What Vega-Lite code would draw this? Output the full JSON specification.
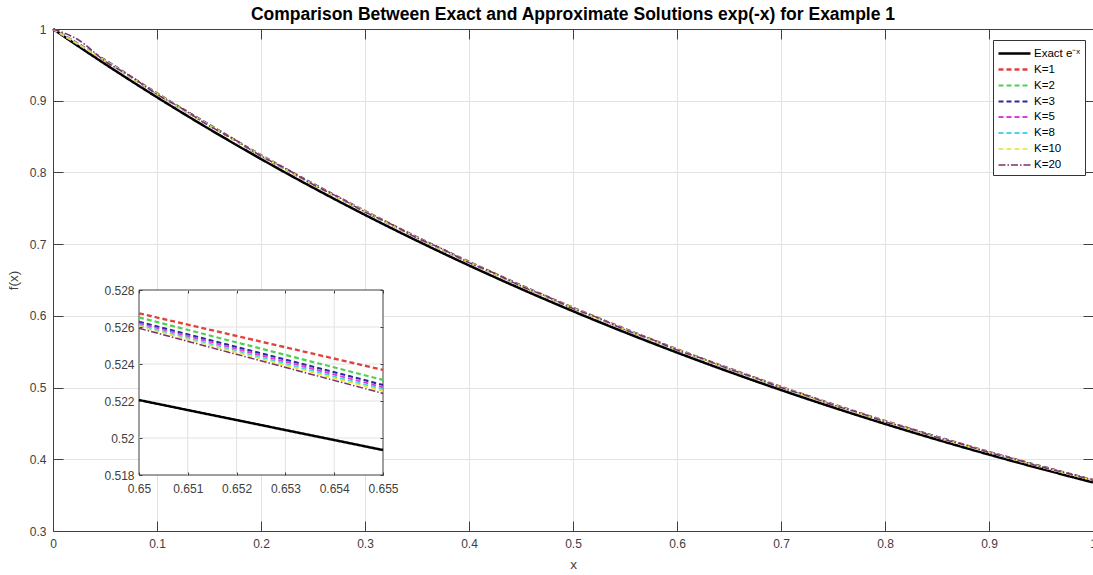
{
  "$schema": "https://vega.github.io/schema/vega-lite/v6.json",
  "width": 1040,
  "height": 502,
  "autosize": {"type": "none"},
  "padding": {"left": 53, "top": 29, "right": 0, "bottom": 44},
  "background": "white",
  "title": {"text": "Comparison Between Exact and Approximate Solutions exp(-x) for Example 1", "anchor": "middle", "frame": "group", "fontSize": 17.5, "fontWeight": "bold", "color": "#000000", "font": "Liberation Sans", "offset": 0},
  "config": {
    "view": {"stroke": null},
    "font": "Liberation Sans",
    "axis": {"labelFont": "Liberation Sans", "labelFontSize": 12, "labelColor": "#404040", "titleFont": "Liberation Sans", "titleFontSize": 13.5, "titleFontWeight": "normal", "titleColor": "#404040", "domainColor": "#404040", "tickColor": "#404040", "gridColor": "#e2e2e2", "gridWidth": 1, "domainWidth": 1, "tickWidth": 1}
  },
  "datasets": {
    "main": [
      {"s": "Exact e⁻ˣ", "x": 0, "y": 1.0}, {"s": "Exact e⁻ˣ", "x": 0.05, "y": 0.95123}, {"s": "Exact e⁻ˣ", "x": 0.1, "y": 0.90484}, {"s": "Exact e⁻ˣ", "x": 0.15, "y": 0.86071}, {"s": "Exact e⁻ˣ", "x": 0.2, "y": 0.81873}, {"s": "Exact e⁻ˣ", "x": 0.25, "y": 0.7788}, {"s": "Exact e⁻ˣ", "x": 0.3, "y": 0.74082}, {"s": "Exact e⁻ˣ", "x": 0.35, "y": 0.70469}, {"s": "Exact e⁻ˣ", "x": 0.4, "y": 0.67032}, {"s": "Exact e⁻ˣ", "x": 0.45, "y": 0.63763}, {"s": "Exact e⁻ˣ", "x": 0.5, "y": 0.60653}, {"s": "Exact e⁻ˣ", "x": 0.55, "y": 0.57695}, {"s": "Exact e⁻ˣ", "x": 0.6, "y": 0.54881}, {"s": "Exact e⁻ˣ", "x": 0.65, "y": 0.52205}, {"s": "Exact e⁻ˣ", "x": 0.7, "y": 0.49659}, {"s": "Exact e⁻ˣ", "x": 0.75, "y": 0.47237}, {"s": "Exact e⁻ˣ", "x": 0.8, "y": 0.44933}, {"s": "Exact e⁻ˣ", "x": 0.85, "y": 0.42741}, {"s": "Exact e⁻ˣ", "x": 0.9, "y": 0.40657}, {"s": "Exact e⁻ˣ", "x": 0.95, "y": 0.38674}, {"s": "Exact e⁻ˣ", "x": 1.0, "y": 0.36788},
      {"s": "K=1", "x": 0, "y": 1.0}, {"s": "K=1", "x": 0.05, "y": 0.9567}, {"s": "K=1", "x": 0.1, "y": 0.9103}, {"s": "K=1", "x": 0.15, "y": 0.8667}, {"s": "K=1", "x": 0.2, "y": 0.8242}, {"s": "K=1", "x": 0.25, "y": 0.7843}, {"s": "K=1", "x": 0.3, "y": 0.7463}, {"s": "K=1", "x": 0.35, "y": 0.7097}, {"s": "K=1", "x": 0.4, "y": 0.6755}, {"s": "K=1", "x": 0.45, "y": 0.6426}, {"s": "K=1", "x": 0.5, "y": 0.6115}, {"s": "K=1", "x": 0.55, "y": 0.5818}, {"s": "K=1", "x": 0.6, "y": 0.5535}, {"s": "K=1", "x": 0.65, "y": 0.5268}, {"s": "K=1", "x": 0.7, "y": 0.5011}, {"s": "K=1", "x": 0.75, "y": 0.4767}, {"s": "K=1", "x": 0.8, "y": 0.4535}, {"s": "K=1", "x": 0.85, "y": 0.4314}, {"s": "K=1", "x": 0.9, "y": 0.4104}, {"s": "K=1", "x": 0.95, "y": 0.3903}, {"s": "K=1", "x": 1.0, "y": 0.3714},
      {"s": "K=2", "x": 0, "y": 1.0}, {"s": "K=2", "x": 0.05, "y": 0.9561}, {"s": "K=2", "x": 0.1, "y": 0.9102}, {"s": "K=2", "x": 0.15, "y": 0.8661}, {"s": "K=2", "x": 0.2, "y": 0.8241}, {"s": "K=2", "x": 0.25, "y": 0.7837}, {"s": "K=2", "x": 0.3, "y": 0.7461}, {"s": "K=2", "x": 0.35, "y": 0.7092}, {"s": "K=2", "x": 0.4, "y": 0.6753}, {"s": "K=2", "x": 0.45, "y": 0.642}, {"s": "K=2", "x": 0.5, "y": 0.6113}, {"s": "K=2", "x": 0.55, "y": 0.5812}, {"s": "K=2", "x": 0.6, "y": 0.5533}, {"s": "K=2", "x": 0.65, "y": 0.5265}, {"s": "K=2", "x": 0.7, "y": 0.5009}, {"s": "K=2", "x": 0.75, "y": 0.4761}, {"s": "K=2", "x": 0.8, "y": 0.4533}, {"s": "K=2", "x": 0.85, "y": 0.4308}, {"s": "K=2", "x": 0.9, "y": 0.4102}, {"s": "K=2", "x": 0.95, "y": 0.3898}, {"s": "K=2", "x": 1.0, "y": 0.3712},
      {"s": "K=3", "x": 0, "y": 1.0}, {"s": "K=3", "x": 0.05, "y": 0.9565}, {"s": "K=3", "x": 0.1, "y": 0.9096}, {"s": "K=3", "x": 0.15, "y": 0.8664}, {"s": "K=3", "x": 0.2, "y": 0.8235}, {"s": "K=3", "x": 0.25, "y": 0.784}, {"s": "K=3", "x": 0.3, "y": 0.7455}, {"s": "K=3", "x": 0.35, "y": 0.7095}, {"s": "K=3", "x": 0.4, "y": 0.6746}, {"s": "K=3", "x": 0.45, "y": 0.6423}, {"s": "K=3", "x": 0.5, "y": 0.6107}, {"s": "K=3", "x": 0.55, "y": 0.5815}, {"s": "K=3", "x": 0.6, "y": 0.5527}, {"s": "K=3", "x": 0.65, "y": 0.5263}, {"s": "K=3", "x": 0.7, "y": 0.5003}, {"s": "K=3", "x": 0.75, "y": 0.4764}, {"s": "K=3", "x": 0.8, "y": 0.4527}, {"s": "K=3", "x": 0.85, "y": 0.4311}, {"s": "K=3", "x": 0.9, "y": 0.4096}, {"s": "K=3", "x": 0.95, "y": 0.3901}, {"s": "K=3", "x": 1.0, "y": 0.3708},
      {"s": "K=5", "x": 0, "y": 1.0}, {"s": "K=5", "x": 0.05, "y": 0.956}, {"s": "K=5", "x": 0.1, "y": 0.9099}, {"s": "K=5", "x": 0.15, "y": 0.8659}, {"s": "K=5", "x": 0.2, "y": 0.8238}, {"s": "K=5", "x": 0.25, "y": 0.7835}, {"s": "K=5", "x": 0.3, "y": 0.7458}, {"s": "K=5", "x": 0.35, "y": 0.709}, {"s": "K=5", "x": 0.4, "y": 0.6749}, {"s": "K=5", "x": 0.45, "y": 0.6418}, {"s": "K=5", "x": 0.5, "y": 0.611}, {"s": "K=5", "x": 0.55, "y": 0.581}, {"s": "K=5", "x": 0.6, "y": 0.553}, {"s": "K=5", "x": 0.65, "y": 0.5262}, {"s": "K=5", "x": 0.7, "y": 0.5006}, {"s": "K=5", "x": 0.75, "y": 0.4759}, {"s": "K=5", "x": 0.8, "y": 0.453}, {"s": "K=5", "x": 0.85, "y": 0.4306}, {"s": "K=5", "x": 0.9, "y": 0.4099}, {"s": "K=5", "x": 0.95, "y": 0.3896}, {"s": "K=5", "x": 1.0, "y": 0.371},
      {"s": "K=8", "x": 0, "y": 1.0}, {"s": "K=8", "x": 0.05, "y": 0.9563}, {"s": "K=8", "x": 0.1, "y": 0.9094}, {"s": "K=8", "x": 0.15, "y": 0.8662}, {"s": "K=8", "x": 0.2, "y": 0.8233}, {"s": "K=8", "x": 0.25, "y": 0.7838}, {"s": "K=8", "x": 0.3, "y": 0.7453}, {"s": "K=8", "x": 0.35, "y": 0.7093}, {"s": "K=8", "x": 0.4, "y": 0.6744}, {"s": "K=8", "x": 0.45, "y": 0.6421}, {"s": "K=8", "x": 0.5, "y": 0.6105}, {"s": "K=8", "x": 0.55, "y": 0.5813}, {"s": "K=8", "x": 0.6, "y": 0.5525}, {"s": "K=8", "x": 0.65, "y": 0.5261}, {"s": "K=8", "x": 0.7, "y": 0.5001}, {"s": "K=8", "x": 0.75, "y": 0.4762}, {"s": "K=8", "x": 0.8, "y": 0.4525}, {"s": "K=8", "x": 0.85, "y": 0.4309}, {"s": "K=8", "x": 0.9, "y": 0.4094}, {"s": "K=8", "x": 0.95, "y": 0.3899}, {"s": "K=8", "x": 1.0, "y": 0.3706},
      {"s": "K=10", "x": 0, "y": 1.0}, {"s": "K=10", "x": 0.05, "y": 0.9558}, {"s": "K=10", "x": 0.1, "y": 0.9097}, {"s": "K=10", "x": 0.15, "y": 0.8657}, {"s": "K=10", "x": 0.2, "y": 0.8236}, {"s": "K=10", "x": 0.25, "y": 0.7833}, {"s": "K=10", "x": 0.3, "y": 0.7456}, {"s": "K=10", "x": 0.35, "y": 0.7088}, {"s": "K=10", "x": 0.4, "y": 0.6747}, {"s": "K=10", "x": 0.45, "y": 0.6416}, {"s": "K=10", "x": 0.5, "y": 0.6108}, {"s": "K=10", "x": 0.55, "y": 0.5808}, {"s": "K=10", "x": 0.6, "y": 0.5528}, {"s": "K=10", "x": 0.65, "y": 0.526}, {"s": "K=10", "x": 0.7, "y": 0.5004}, {"s": "K=10", "x": 0.75, "y": 0.4757}, {"s": "K=10", "x": 0.8, "y": 0.4528}, {"s": "K=10", "x": 0.85, "y": 0.4304}, {"s": "K=10", "x": 0.9, "y": 0.4097}, {"s": "K=10", "x": 0.95, "y": 0.3894}, {"s": "K=10", "x": 1.0, "y": 0.3708},
      {"s": "K=20", "x": 0, "y": 1.0}, {"s": "K=20", "x": 0.025, "y": 0.9843}, {"s": "K=20", "x": 0.05, "y": 0.9552}, {"s": "K=20", "x": 0.075, "y": 0.9337}, {"s": "K=20", "x": 0.1, "y": 0.909}, {"s": "K=20", "x": 0.125, "y": 0.8883}, {"s": "K=20", "x": 0.15, "y": 0.8652}, {"s": "K=20", "x": 0.175, "y": 0.8453}, {"s": "K=20", "x": 0.2, "y": 0.8229}, {"s": "K=20", "x": 0.225, "y": 0.8043}, {"s": "K=20", "x": 0.25, "y": 0.7832}, {"s": "K=20", "x": 0.275, "y": 0.7652}, {"s": "K=20", "x": 0.3, "y": 0.745}, {"s": "K=20", "x": 0.325, "y": 0.728}, {"s": "K=20", "x": 0.35, "y": 0.7087}, {"s": "K=20", "x": 0.375, "y": 0.6927}, {"s": "K=20", "x": 0.4, "y": 0.6743}, {"s": "K=20", "x": 0.425, "y": 0.659}, {"s": "K=20", "x": 0.45, "y": 0.6415}, {"s": "K=20", "x": 0.475, "y": 0.627}, {"s": "K=20", "x": 0.5, "y": 0.6103}, {"s": "K=20", "x": 0.525, "y": 0.5966}, {"s": "K=20", "x": 0.55, "y": 0.5807}, {"s": "K=20", "x": 0.575, "y": 0.5675}, {"s": "K=20", "x": 0.6, "y": 0.5524}, {"s": "K=20", "x": 0.625, "y": 0.54}, {"s": "K=20", "x": 0.65, "y": 0.5259}, {"s": "K=20", "x": 0.675, "y": 0.5137}, {"s": "K=20", "x": 0.7, "y": 0.5}, {"s": "K=20", "x": 0.725, "y": 0.4887}, {"s": "K=20", "x": 0.75, "y": 0.4757}, {"s": "K=20", "x": 0.775, "y": 0.4649}, {"s": "K=20", "x": 0.8, "y": 0.4525}, {"s": "K=20", "x": 0.825, "y": 0.4422}, {"s": "K=20", "x": 0.85, "y": 0.4304}, {"s": "K=20", "x": 0.875, "y": 0.4207}, {"s": "K=20", "x": 0.9, "y": 0.4095}, {"s": "K=20", "x": 0.925, "y": 0.4001}, {"s": "K=20", "x": 0.95, "y": 0.3895}, {"s": "K=20", "x": 0.975, "y": 0.3806}, {"s": "K=20", "x": 1.0, "y": 0.3706}
    ],
    "inset": [
      {"s": "Exact e⁻ˣ", "x": 0.65, "y": 0.52205}, {"s": "Exact e⁻ˣ", "x": 0.655, "y": 0.51935},
      {"s": "K=1", "x": 0.65, "y": 0.52674}, {"s": "K=1", "x": 0.655, "y": 0.52368},
      {"s": "K=2", "x": 0.65, "y": 0.52652}, {"s": "K=2", "x": 0.655, "y": 0.52314},
      {"s": "K=3", "x": 0.65, "y": 0.52629}, {"s": "K=3", "x": 0.655, "y": 0.52287},
      {"s": "K=5", "x": 0.65, "y": 0.5262}, {"s": "K=5", "x": 0.655, "y": 0.52274},
      {"s": "K=8", "x": 0.65, "y": 0.52611}, {"s": "K=8", "x": 0.655, "y": 0.52263},
      {"s": "K=10", "x": 0.65, "y": 0.52602}, {"s": "K=10", "x": 0.655, "y": 0.52254},
      {"s": "K=20", "x": 0.65, "y": 0.52593}, {"s": "K=20", "x": 0.655, "y": 0.52241}
    ],
    "igx": [{"gx": 0.651}, {"gx": 0.652}, {"gx": 0.653}, {"gx": 0.654}],
    "igy": [{"gy": 0.52}, {"gy": 0.522}, {"gy": 0.524}, {"gy": 0.526}],
    "box": [{"x1": 0.65, "x2": 0.655, "y1": 0.518, "y2": 0.528}]
  },
  "layer": [
    {
      "data": {"name": "main"},
      "mark": {"type": "line", "interpolate": "monotone"},
      "encoding": {
        "x": {"field": "x", "type": "quantitative", "scale": {"domain": [0, 1], "nice": false, "zero": false},
              "axis": {"orient": "bottom", "values": [0, 0.1, 0.2, 0.3, 0.4, 0.5, 0.6, 0.7, 0.8, 0.9, 1], "format": "~g", "grid": true, "tickSize": -10, "labelPadding": 17, "title": "x", "titlePadding": 8, "labelFlush": false, "labelOverlap": false}},
        "y": {"field": "y", "type": "quantitative", "scale": {"domain": [0.3, 1], "nice": false, "zero": false},
              "axis": {"orient": "left", "values": [0.3, 0.4, 0.5, 0.6, 0.7, 0.8, 0.9, 1], "format": "~g", "grid": true, "tickSize": -10, "labelPadding": 17, "title": "f(x)", "titlePadding": 9, "labelFlush": false, "labelOverlap": false}},
        "color": {"field": "s", "type": "nominal",
                  "scale": {"domain": ["Exact e⁻ˣ", "K=1", "K=2", "K=3", "K=5", "K=8", "K=10", "K=20"], "range": ["#000000", "#e0423c", "#52cf52", "#2a2aa0", "#de3fde", "#4cd2e3", "#e3e331", "#7e2f6b"]},
                  "legend": {"title": null, "orient": "none", "legendX": 940, "legendY": 11, "symbolType": "M-1,0H3", "symbolSize": 256, "labelOffset": 18, "labelFontSize": 11.5, "labelColor": "#000000", "labelFont": "Liberation Sans", "strokeColor": "#333333", "fillColor": "white", "padding": 4, "rowPadding": 1, "cornerRadius": 0, "labelLimit": 200}},
        "strokeDash": {"field": "s", "type": "nominal",
                  "scale": {"domain": ["Exact e⁻ˣ", "K=1", "K=2", "K=3", "K=5", "K=8", "K=10", "K=20"], "range": [[1, 0], [5, 3], [5, 3], [5, 3], [5, 3], [5, 3], [5, 3], [7, 2, 1.5, 2]]},
                  "legend": {"title": null, "orient": "none", "legendX": 940, "legendY": 11, "symbolType": "M-1,0H3", "symbolSize": 256, "labelOffset": 18, "labelFontSize": 11.5, "labelColor": "#000000", "labelFont": "Liberation Sans", "strokeColor": "#333333", "fillColor": "white", "padding": 4, "rowPadding": 1, "cornerRadius": 0, "labelLimit": 200}},
        "strokeWidth": {"field": "s", "type": "nominal",
                  "scale": {"domain": ["Exact e⁻ˣ", "K=1", "K=2", "K=3", "K=5", "K=8", "K=10", "K=20"], "range": [2.5, 1.5, 1.5, 1.5, 1.5, 1.5, 1.5, 1.5]},
                  "legend": {"title": null, "orient": "none", "legendX": 940, "legendY": 11, "symbolType": "M-1,0H3", "symbolSize": 256, "labelOffset": 18, "labelFontSize": 11.5, "labelColor": "#000000", "labelFont": "Liberation Sans", "strokeColor": "#333333", "fillColor": "white", "padding": 4, "rowPadding": 1, "cornerRadius": 0, "labelLimit": 200}}
      }
    },
    {
      "data": {"name": "main"},
      "mark": {"type": "point", "opacity": 0},
      "encoding": {
        "x": {"field": "x", "type": "quantitative", "scale": {"domain": [0, 1], "nice": false, "zero": false},
              "axis": {"orient": "top", "values": [0, 0.1, 0.2, 0.3, 0.4, 0.5, 0.6, 0.7, 0.8, 0.9, 1], "labels": false, "grid": false, "tickSize": -10, "title": null}},
        "y": {"field": "y", "type": "quantitative", "scale": {"domain": [0.3, 1], "nice": false, "zero": false},
              "axis": {"orient": "right", "values": [0.3, 0.4, 0.5, 0.6, 0.7, 0.8, 0.9, 1], "labels": false, "grid": false, "tickSize": -10, "domain": false, "title": null}}
      }
    },
    {
      "layer": [
        {
          "data": {"name": "box"},
          "mark": {"type": "rect", "fill": "white", "stroke": "#404040", "strokeWidth": 1},
          "encoding": {
            "x": {"field": "x1", "type": "quantitative", "scale": {"domain": [0.65, 0.655], "range": [86, 330], "nice": false, "zero": false},
                  "axis": {"orient": "bottom", "offset": -56, "values": [0.65, 0.651, 0.652, 0.653, 0.654, 0.655], "format": "~g", "grid": false, "domain": false, "tickSize": -3, "labelPadding": 11, "title": null, "zindex": 1, "labelFlush": false, "labelOverlap": false}},
            "x2": {"field": "x2"},
            "y": {"field": "y1", "type": "quantitative", "scale": {"domain": [0.518, 0.528], "range": [446, 261], "nice": false, "zero": false},
                  "axis": {"orient": "left", "offset": -86, "values": [0.518, 0.52, 0.522, 0.524, 0.526, 0.528], "format": "~g", "grid": false, "domain": false, "tickSize": -3, "labelPadding": 8, "title": null, "zindex": 1, "labelFlush": false, "labelOverlap": false}},
            "y2": {"field": "y2"}
          }
        },
        {
          "data": {"name": "igx"},
          "mark": {"type": "rule", "color": "#e2e2e2", "strokeWidth": 1},
          "encoding": {
            "x": {"field": "gx", "type": "quantitative", "scale": {"domain": [0.65, 0.655], "range": [86, 330], "nice": false, "zero": false}, "axis": null},
            "y": {"datum": 0.518, "type": "quantitative", "scale": {"domain": [0.518, 0.528], "range": [446, 261], "nice": false, "zero": false}, "axis": null},
            "y2": {"datum": 0.528}
          }
        },
        {
          "data": {"name": "igy"},
          "mark": {"type": "rule", "color": "#e2e2e2", "strokeWidth": 1},
          "encoding": {
            "y": {"field": "gy", "type": "quantitative", "scale": {"domain": [0.518, 0.528], "range": [446, 261], "nice": false, "zero": false}, "axis": null},
            "x": {"datum": 0.65, "type": "quantitative", "scale": {"domain": [0.65, 0.655], "range": [86, 330], "nice": false, "zero": false}, "axis": null},
            "x2": {"datum": 0.655}
          }
        },
        {
          "data": {"name": "inset"},
          "mark": {"type": "line"},
          "encoding": {
            "x": {"field": "x", "type": "quantitative", "scale": {"domain": [0.65, 0.655], "range": [86, 330], "nice": false, "zero": false},
                  "axis": {"orient": "top", "offset": -261, "values": [0.65, 0.651, 0.652, 0.653, 0.654, 0.655], "labels": false, "grid": false, "domain": false, "tickSize": -3, "title": null, "zindex": 1}},
            "y": {"field": "y", "type": "quantitative", "scale": {"domain": [0.518, 0.528], "range": [446, 261], "nice": false, "zero": false},
                  "axis": {"orient": "right", "offset": -710, "values": [0.518, 0.52, 0.522, 0.524, 0.526, 0.528], "labels": false, "grid": false, "domain": false, "tickSize": -3, "title": null, "zindex": 1}},
            "color": {"field": "s", "type": "nominal", "scale": {"domain": ["Exact e⁻ˣ", "K=1", "K=2", "K=3", "K=5", "K=8", "K=10", "K=20"], "range": ["#000000", "#e0423c", "#52cf52", "#2a2aa0", "#de3fde", "#4cd2e3", "#e3e331", "#7e2f6b"]}},
            "strokeDash": {"field": "s", "type": "nominal", "scale": {"domain": ["Exact e⁻ˣ", "K=1", "K=2", "K=3", "K=5", "K=8", "K=10", "K=20"], "range": [[1, 0], [5, 3], [5, 3], [5, 3], [5, 3], [5, 3], [5, 3], [7, 2, 1.5, 2]]}},
            "strokeWidth": {"field": "s", "type": "nominal", "scale": {"domain": ["Exact e⁻ˣ", "K=1", "K=2", "K=3", "K=5", "K=8", "K=10", "K=20"], "range": [2.5, 1.5, 1.5, 1.5, 1.5, 1.5, 1.5, 1.5]}}
          }
        }
      ],
      "resolve": {"axis": {"x": "independent", "y": "independent"}}
    }
  ],
  "resolve": {"scale": {"x": "independent", "y": "independent"}}
}
